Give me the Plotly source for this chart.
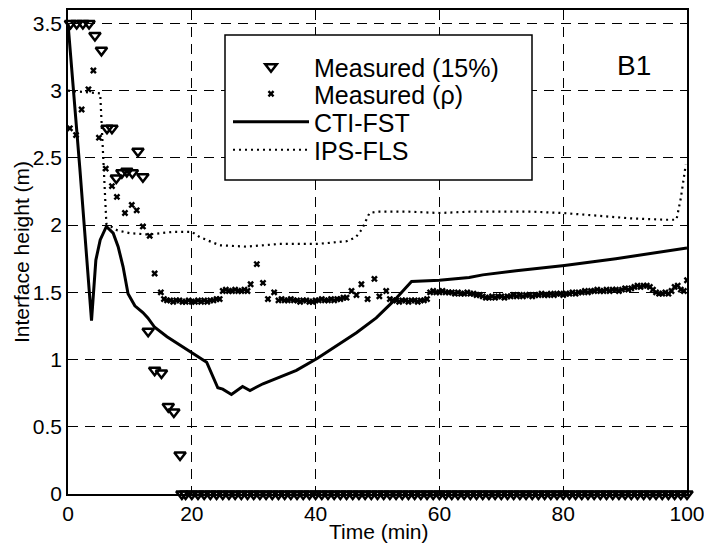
import plotly.graph_objects as go

# ---------------- data ----------------
# Measured (15%) – open triangles
tri_time = [0.4, 1.4, 2.4, 3.4, 4.35, 5.4, 6.3, 7.1, 7.8, 8.7, 9.5, 10.4, 11.3, 12.1,
            12.95, 14.0, 15.1, 16.2, 17.1, 18.1,
            18.4, 19, 20, 21, 22, 23, 24, 25, 26, 27, 28, 29, 30, 31, 32, 33, 34, 35, 36,
            37, 38, 39, 40, 41, 42, 43, 44, 45, 46, 47, 48, 49, 50, 51, 52, 53, 54, 55,
            56, 57, 58, 59, 60, 61, 62, 63, 64, 65, 66, 67, 68, 69, 70, 71, 72, 73, 74,
            75, 76, 77, 78, 79, 80, 81, 82, 83, 84, 85, 86, 87, 88, 89, 90, 91, 92, 93,
            94, 95, 96, 97, 98, 99, 100]
tri_height = [3.5, 3.5, 3.5, 3.5, 3.41, 3.30, 2.72, 2.72, 2.35, 2.39, 2.40, 2.39, 2.55, 2.36,
              1.21, 0.92, 0.90, 0.65, 0.61, 0.29,
              0, 0, 0, 0, 0, 0, 0, 0, 0, 0, 0, 0, 0, 0, 0, 0, 0, 0, 0,
              0, 0, 0, 0, 0, 0, 0, 0, 0, 0, 0, 0, 0, 0, 0, 0, 0, 0, 0,
              0, 0, 0, 0, 0, 0, 0, 0, 0, 0, 0, 0, 0, 0, 0, 0, 0, 0, 0,
              0, 0, 0, 0, 0, 0, 0, 0, 0, 0, 0, 0, 0, 0, 0, 0, 0, 0, 0,
              0, 0, 0, 0, 0, 0, 0]

# Measured (rho) – small crosses
rho_time = ([0.3, 1.3, 2.2, 3.3, 4.1, 5.0, 6.1, 7.1, 7.9, 9.2, 10.3, 11.1, 12.1, 13.2, 14.0, 15.0]
            + [15.5, 16.0, 16.5, 17.0, 17.5, 18.0, 18.5, 19.0, 19.5, 20.0, 20.5, 21.0, 21.5,
               22.0, 22.5, 23.0, 23.5, 24.0, 24.5]
            + [25.0, 25.5, 26.0, 26.5, 27.0, 27.5, 28.0, 28.5, 29.0]
            + [29.5, 30.5, 31.5, 32.3, 33.3]
            + [34.0, 34.5, 35.0, 35.5, 36.0, 36.5, 37.0, 37.5, 38.0, 38.5, 39.0, 39.5, 40.0,
               40.5, 41.0, 41.5, 42.0, 42.5, 43.0, 43.5, 44.0, 44.5, 45.0]
            + [45.8, 46.6, 47.4, 48.4, 49.5, 50.3, 51.4]
            + [52.0, 52.5, 53.0, 53.5, 54.0, 54.5, 55.0, 55.5, 56.0, 56.5, 57.0, 57.5, 58.0]
            + [58.5, 59.0, 59.5, 60.0, 60.5, 61.0, 61.5,
               62.0, 62.5, 63.0, 63.5, 64.0, 64.5, 65.0, 65.5, 66.0, 66.5, 67.0,
               67.5, 68.0, 68.5, 69.0, 69.5, 70.0, 70.5, 71.0, 71.5, 72.0,
               72.5, 73.0, 73.5, 74.0, 74.5, 75.0, 75.5, 76.0, 76.5, 77.0, 77.5, 78.0, 78.5,
               79.0, 79.5, 80.0,
               80.5, 81.0, 81.5, 82.0, 82.5, 83.0, 83.5, 84.0, 84.5, 85.0, 85.5, 86.0,
               86.5, 87.0, 87.5, 88.0, 88.5, 89.0, 89.5, 90.0, 90.5, 91.0, 91.5, 92.0, 92.5, 93.0,
               93.5, 94.0, 94.5, 95.0, 95.5, 96.0, 96.5, 97.0, 97.5, 98.0, 98.5, 99.0, 99.5, 100.0])
rho_height = ([2.72, 2.67, 2.86, 3.01, 3.15, 2.65, 2.42, 2.29, 2.21, 2.09, 2.15, 2.11, 1.99, 1.92, 1.64, 1.50]
              + [1.45, 1.44, 1.44, 1.43, 1.44, 1.44, 1.43, 1.43, 1.44, 1.43, 1.43, 1.44, 1.43,
                 1.44, 1.43, 1.44, 1.44, 1.45, 1.45]
              + [1.51, 1.52, 1.51, 1.51, 1.52, 1.51, 1.51, 1.52, 1.51]
              + [1.56, 1.71, 1.57, 1.45, 1.50]
              + [1.44, 1.45, 1.44, 1.44, 1.45, 1.44, 1.44, 1.43, 1.44, 1.44, 1.43, 1.43, 1.44,
                 1.44, 1.45, 1.44, 1.44, 1.45, 1.44, 1.45, 1.45, 1.46, 1.46]
              + [1.51, 1.48, 1.56, 1.45, 1.60, 1.47, 1.51]
              + [1.45, 1.44, 1.44, 1.43, 1.44, 1.44, 1.43, 1.44, 1.44, 1.43, 1.44, 1.44, 1.45]
              + [1.50, 1.51, 1.50, 1.50, 1.51, 1.50, 1.50,
                 1.50, 1.49, 1.50, 1.49, 1.49, 1.50, 1.49, 1.49, 1.48, 1.48, 1.47,
                 1.46, 1.46, 1.47, 1.46, 1.47, 1.47, 1.46, 1.47, 1.47, 1.48,
                 1.47, 1.48, 1.47, 1.48, 1.48, 1.47, 1.48, 1.48, 1.49, 1.48, 1.48, 1.49, 1.48,
                 1.49, 1.49, 1.48,
                 1.49, 1.49, 1.50, 1.49, 1.50, 1.50, 1.51, 1.50, 1.51, 1.51, 1.52, 1.51,
                 1.51, 1.52, 1.51, 1.52, 1.52, 1.51, 1.52, 1.53, 1.52, 1.53, 1.54, 1.55, 1.54, 1.55,
                 1.55, 1.54, 1.52, 1.50, 1.49, 1.49, 1.50, 1.49, 1.51, 1.54, 1.55, 1.52, 1.51, 1.59])

# CTI-FST – solid line
cti_time = [0, 1.9, 3.8, 4.5, 5.2, 6.2, 7.3, 8.1, 8.9, 9.7, 10.8, 12.1, 12.9, 14.0, 16.0,
            18.0, 20.3, 22.4, 24.2, 25.0, 26.4, 28.2, 29.4, 31.5, 34.2, 36.9, 40.3, 43.9,
            46.6, 49.8, 52.7, 55.5, 60.0, 64.8, 67.0, 72.4, 80.2, 88.5, 96.0, 100.0]
cti_height = [3.5, 2.43, 1.29, 1.74, 1.89, 1.99, 1.94, 1.84, 1.69, 1.49, 1.40, 1.35, 1.31, 1.24, 1.17,
              1.11, 1.04, 0.98, 0.79, 0.78, 0.74, 0.80, 0.77, 0.82, 0.87, 0.92, 1.01, 1.12,
              1.20, 1.31, 1.44, 1.58, 1.59, 1.61, 1.63, 1.66, 1.70, 1.75, 1.80, 1.83]

# IPS-FLS – dotted line
ips_time = [0, 5.2, 6.2, 8.0, 10.0, 13.0, 17.0, 20.0, 21.3, 24.5, 28.9, 34.2, 40.3, 45.0,
            46.5, 47.5, 48.7, 50.0, 55.0, 60.0, 65.0, 70.0, 75.0, 80.0, 83.0, 86.0, 91.0,
            96.6, 98.3, 99.0, 99.8]
ips_height = [3.0, 2.98, 2.01, 1.96, 1.94, 1.93, 1.95, 1.95, 1.91, 1.85, 1.84, 1.86, 1.86, 1.88,
              1.91, 1.97, 2.09, 2.10, 2.10, 2.09, 2.10, 2.10, 2.10, 2.09, 2.08, 2.07, 2.05,
              2.04, 2.04, 2.20, 2.45]

x_ticks = [0, 20, 40, 60, 80, 100]
y_ticks = [0, 0.5, 1, 1.5, 2, 2.5, 3, 3.5]
y_tick_text = ["0", "0.5", "1", "1.5", "2", "2.5", "3", "3.5"]

# ---------------- figure ----------------
W, H = 704, 547
ML, MR, MT, MB = 68, 17, 10, 53
FONT = "Arial, Liberation Sans, Helvetica, sans-serif"

fig = go.Figure()
fig.add_trace(go.Scatter(
    x=tri_time, y=tri_height, mode="markers", name="Measured (15%)",
    marker=dict(symbol="triangle-down-open", size=10, color="black", line=dict(width=2.5, color="black")),
    cliponaxis=False, legend="legend"))
fig.add_trace(go.Scatter(
    x=rho_time, y=rho_height, mode="markers", name="Measured (\u03c1)",
    marker=dict(symbol="x", size=6, color="black", line=dict(width=0)),
    legend="legend2"))
fig.add_trace(go.Scatter(
    x=cti_time, y=cti_height, mode="lines", name="CTI-FST",
    line=dict(color="black", width=3), legend="legend3"))
fig.add_trace(go.Scatter(
    x=ips_time, y=ips_height, mode="lines", name="IPS-FLS",
    line=dict(color="black", width=2.2, dash="2px,4px"), legend="legend4"))

def px_to_paper_x(px):
    return (px - ML) / (W - ML - MR)

def px_to_paper_y(py):
    return (H - MB - py) / (H - MT - MB)

leg_left = 228
leg_rows = [67, 94, 122, 150]
leg_common = dict(xref="paper", yref="paper", xanchor="left", yanchor="middle",
                  bgcolor="rgba(0,0,0,0)", borderwidth=0, itemwidth=76,
                  font=dict(family=FONT, size=25, color="black"))
layout_legends = {}
for i, row in enumerate(leg_rows):
    key = "legend" if i == 0 else f"legend{i+1}"
    layout_legends[key] = dict(x=px_to_paper_x(leg_left), y=px_to_paper_y(row), **leg_common)

axis_common = dict(showline=True, mirror=True, automargin=False,
                   linecolor="black", linewidth=1.5, ticks="inside", ticklen=5, tickcolor="black",
                   showgrid=True, gridcolor="black", gridwidth=1, griddash="10px,7px",
                   zeroline=False, tickfont=dict(size=21), ticklabeloverflow="allow")

fig.update_layout(
    width=W, height=H,
    margin=dict(l=ML, r=MR, t=MT, b=MB, autoexpand=False),
    paper_bgcolor="white", plot_bgcolor="white",
    font=dict(family=FONT, size=21, color="black"),
    showlegend=True,
    **layout_legends,
    xaxis=dict(range=[0, 100], tickvals=x_ticks, **axis_common),
    yaxis=dict(range=[0, 3.6], tickvals=y_ticks, ticktext=y_tick_text, **axis_common),
    shapes=[dict(type="rect", xref="paper", yref="paper",
                 x0=px_to_paper_x(225), x1=px_to_paper_x(532),
                 y0=px_to_paper_y(180), y1=px_to_paper_y(35),
                 fillcolor="white", line=dict(color="black", width=1.5), layer="above")],
    annotations=[
        dict(text="B1", xref="paper", yref="paper",
             x=px_to_paper_x(634), y=px_to_paper_y(66),
             showarrow=False, font=dict(size=28, family=FONT, color="black"),
             xanchor="center", yanchor="middle"),
        dict(text="Time (min)", xref="paper", yref="paper",
             x=px_to_paper_x(379), y=px_to_paper_y(531),
             showarrow=False, font=dict(size=21, family=FONT, color="black"),
             xanchor="center", yanchor="middle"),
        dict(text="Interface height (m)", xref="paper", yref="paper", textangle=-90,
             x=px_to_paper_x(21), y=px_to_paper_y(252),
             showarrow=False, font=dict(size=21, family=FONT, color="black"),
             xanchor="center", yanchor="middle"),
    ],
)

fig.write_html("out.html", config={"displayModeBar": False},
               post_script="document.body.style.margin='0px';")
